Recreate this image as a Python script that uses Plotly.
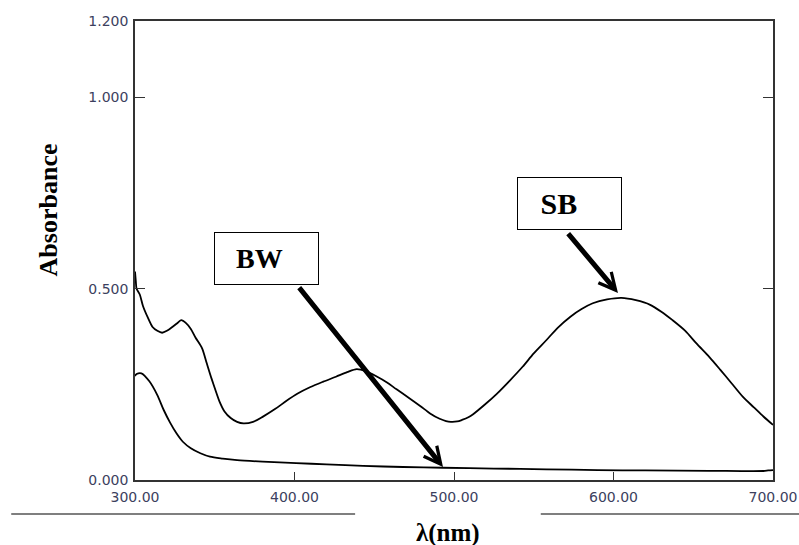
import plotly.graph_objects as go

# ---- data ----
sb_wavelength = [300, 300.5, 301, 303, 305, 308, 311, 314, 317, 320, 324, 327, 329, 332, 335,
                 338, 342, 345, 348, 351, 353, 356, 360, 364, 368, 374, 380, 388, 395, 402,
                 410, 418, 426, 433, 439, 445, 451, 458, 464, 472, 479, 485, 491, 495, 498,
                 502, 505, 509, 512, 519, 527, 535, 543, 550, 558, 565, 573, 580, 587, 596,
                 605, 614, 623, 630, 637, 645, 652, 660, 667, 674, 681, 688, 694, 700]
sb_absorbance = [0.545, 0.52, 0.50, 0.485, 0.455, 0.425, 0.40, 0.39, 0.385, 0.39, 0.402, 0.412, 0.418, 0.41, 0.395,
                 0.372, 0.345, 0.305, 0.265, 0.228, 0.205, 0.18, 0.162, 0.152, 0.148, 0.152, 0.165, 0.186, 0.207, 0.226,
                 0.243, 0.257, 0.270, 0.282, 0.290, 0.284, 0.272, 0.255, 0.237, 0.214, 0.193, 0.174, 0.160, 0.154, 0.152,
                 0.153, 0.157, 0.164, 0.172, 0.196, 0.226, 0.26, 0.296, 0.331, 0.366, 0.398, 0.427, 0.447, 0.462, 0.472,
                 0.476, 0.470, 0.458, 0.440, 0.418, 0.390, 0.357, 0.322, 0.288, 0.253, 0.218, 0.190, 0.166, 0.144]

bw_wavelength = [300, 301, 304, 309, 314, 318, 322, 326, 330, 335, 341, 347, 355, 364, 380,
                 401, 420, 443, 468, 493, 525, 558, 590, 620, 660, 694, 697, 700]
bw_absorbance = [0.272, 0.277, 0.279, 0.258, 0.222, 0.183, 0.150, 0.122, 0.100, 0.083, 0.070, 0.061, 0.056, 0.052, 0.048,
                 0.044, 0.041, 0.037, 0.034, 0.032, 0.030, 0.028, 0.026, 0.025, 0.024, 0.0235, 0.025, 0.026]

x_ticks = [300, 400, 500, 600, 700]
y_ticks = [0.0, 0.5, 1.0, 1.2]

labels = ["BW", "SB"]
label_box_x = [382.4, 572.1]
label_box_y = [0.579, 0.7216]
label_sizes = [28, 30]
arrow_tail_x = [402.2, 570.8]
arrow_tail_y = [0.507, 0.648]
arrow_tip_x = [493.1, 602.8]
arrow_tip_y = [0.034, 0.489]

tick_font = dict(family="DejaVu Sans", size=14, color="#3c3f5e")
serif_bold = "Liberation Serif"

fig = go.Figure()
fig.add_trace(go.Scatter(x=sb_wavelength, y=sb_absorbance, mode="lines",
                         line=dict(color="black", width=1.8, shape="spline", smoothing=0.8),
                         name="SB", showlegend=False, hoverinfo="skip"))
fig.add_trace(go.Scatter(x=bw_wavelength, y=bw_absorbance, mode="lines",
                         line=dict(color="black", width=1.8, shape="spline", smoothing=0.8),
                         name="BW", showlegend=False, hoverinfo="skip"))

annotations = []
for i, lab in enumerate(labels):
    annotations.append(dict(
        x=arrow_tip_x[i], y=arrow_tip_y[i], ax=arrow_tail_x[i], ay=arrow_tail_y[i],
        xref="x", yref="y", axref="x", ayref="y", text="", showarrow=True,
        arrowhead=5, arrowwidth=5, arrowsize=0.66, arrowcolor="black", standoff=0))
for i, lab in enumerate(labels):
    annotations.append(dict(
        x=label_box_x[i], y=label_box_y[i], xref="x", yref="y", xanchor="center", yanchor="middle",
        text="&nbsp;&nbsp;&nbsp;<b>" + lab + "</b>", showarrow=False, align="left",
        width=103, height=51, borderpad=0, borderwidth=1, bordercolor="black", bgcolor="white",
        font=dict(family=serif_bold, size=label_sizes[i], color="black")))

annotations.append(dict(x=-0.1359, y=0.588, xref="paper", yref="paper", xanchor="center", yanchor="middle",
                        text="<b>Absorbance</b>", textangle=-90, showarrow=False,
                        font=dict(family=serif_bold, size=26, color="black")))
annotations.append(dict(x=0.4906, y=-0.1155, xref="paper", yref="paper", xanchor="center", yanchor="middle",
                        text="<b>λ(nm)</b>", showarrow=False,
                        font=dict(family=serif_bold, size=25, color="black")))

shapes = [
    dict(type="line", xref="paper", yref="paper", x0=-0.194, x1=0.345, y0=-0.0741, y1=-0.0741,
         line=dict(color="#555555", width=1.5)),
    dict(type="line", xref="paper", yref="paper", x0=0.636, x1=1.045, y0=-0.0741, y1=-0.0741,
         line=dict(color="#555555", width=1.5)),
]

fig.update_layout(
    width=799, height=545,
    margin=dict(l=135, r=26, t=21, b=65, autoexpand=False),
    paper_bgcolor="white", plot_bgcolor="white",
    annotations=annotations, shapes=shapes,
    showlegend=False,
)
fig.update_xaxes(range=[300, 700], tickvals=x_ticks, tickformat=".2f", ticks="inside", ticklen=8,
                 tickwidth=1.3, tickcolor="#333333", showline=True, linecolor="#333333", linewidth=1.5,
                 mirror=True, showgrid=False, zeroline=False, tickfont=tick_font, ticklabelstandoff=3,
                 automargin=False)
fig.update_yaxes(range=[0, 1.2], tickvals=y_ticks, tickformat=".3f", ticks="inside", ticklen=10,
                 tickwidth=1.3, tickcolor="#333333", showline=True, linecolor="#333333", linewidth=1.5,
                 mirror="ticks", showgrid=False, zeroline=False, tickfont=tick_font, ticklabelstandoff=2,
                 automargin=False)

fig.write_html("out.html", config={"displayModeBar": False},
               post_script="document.body.style.margin='0';document.body.style.padding='0';")
